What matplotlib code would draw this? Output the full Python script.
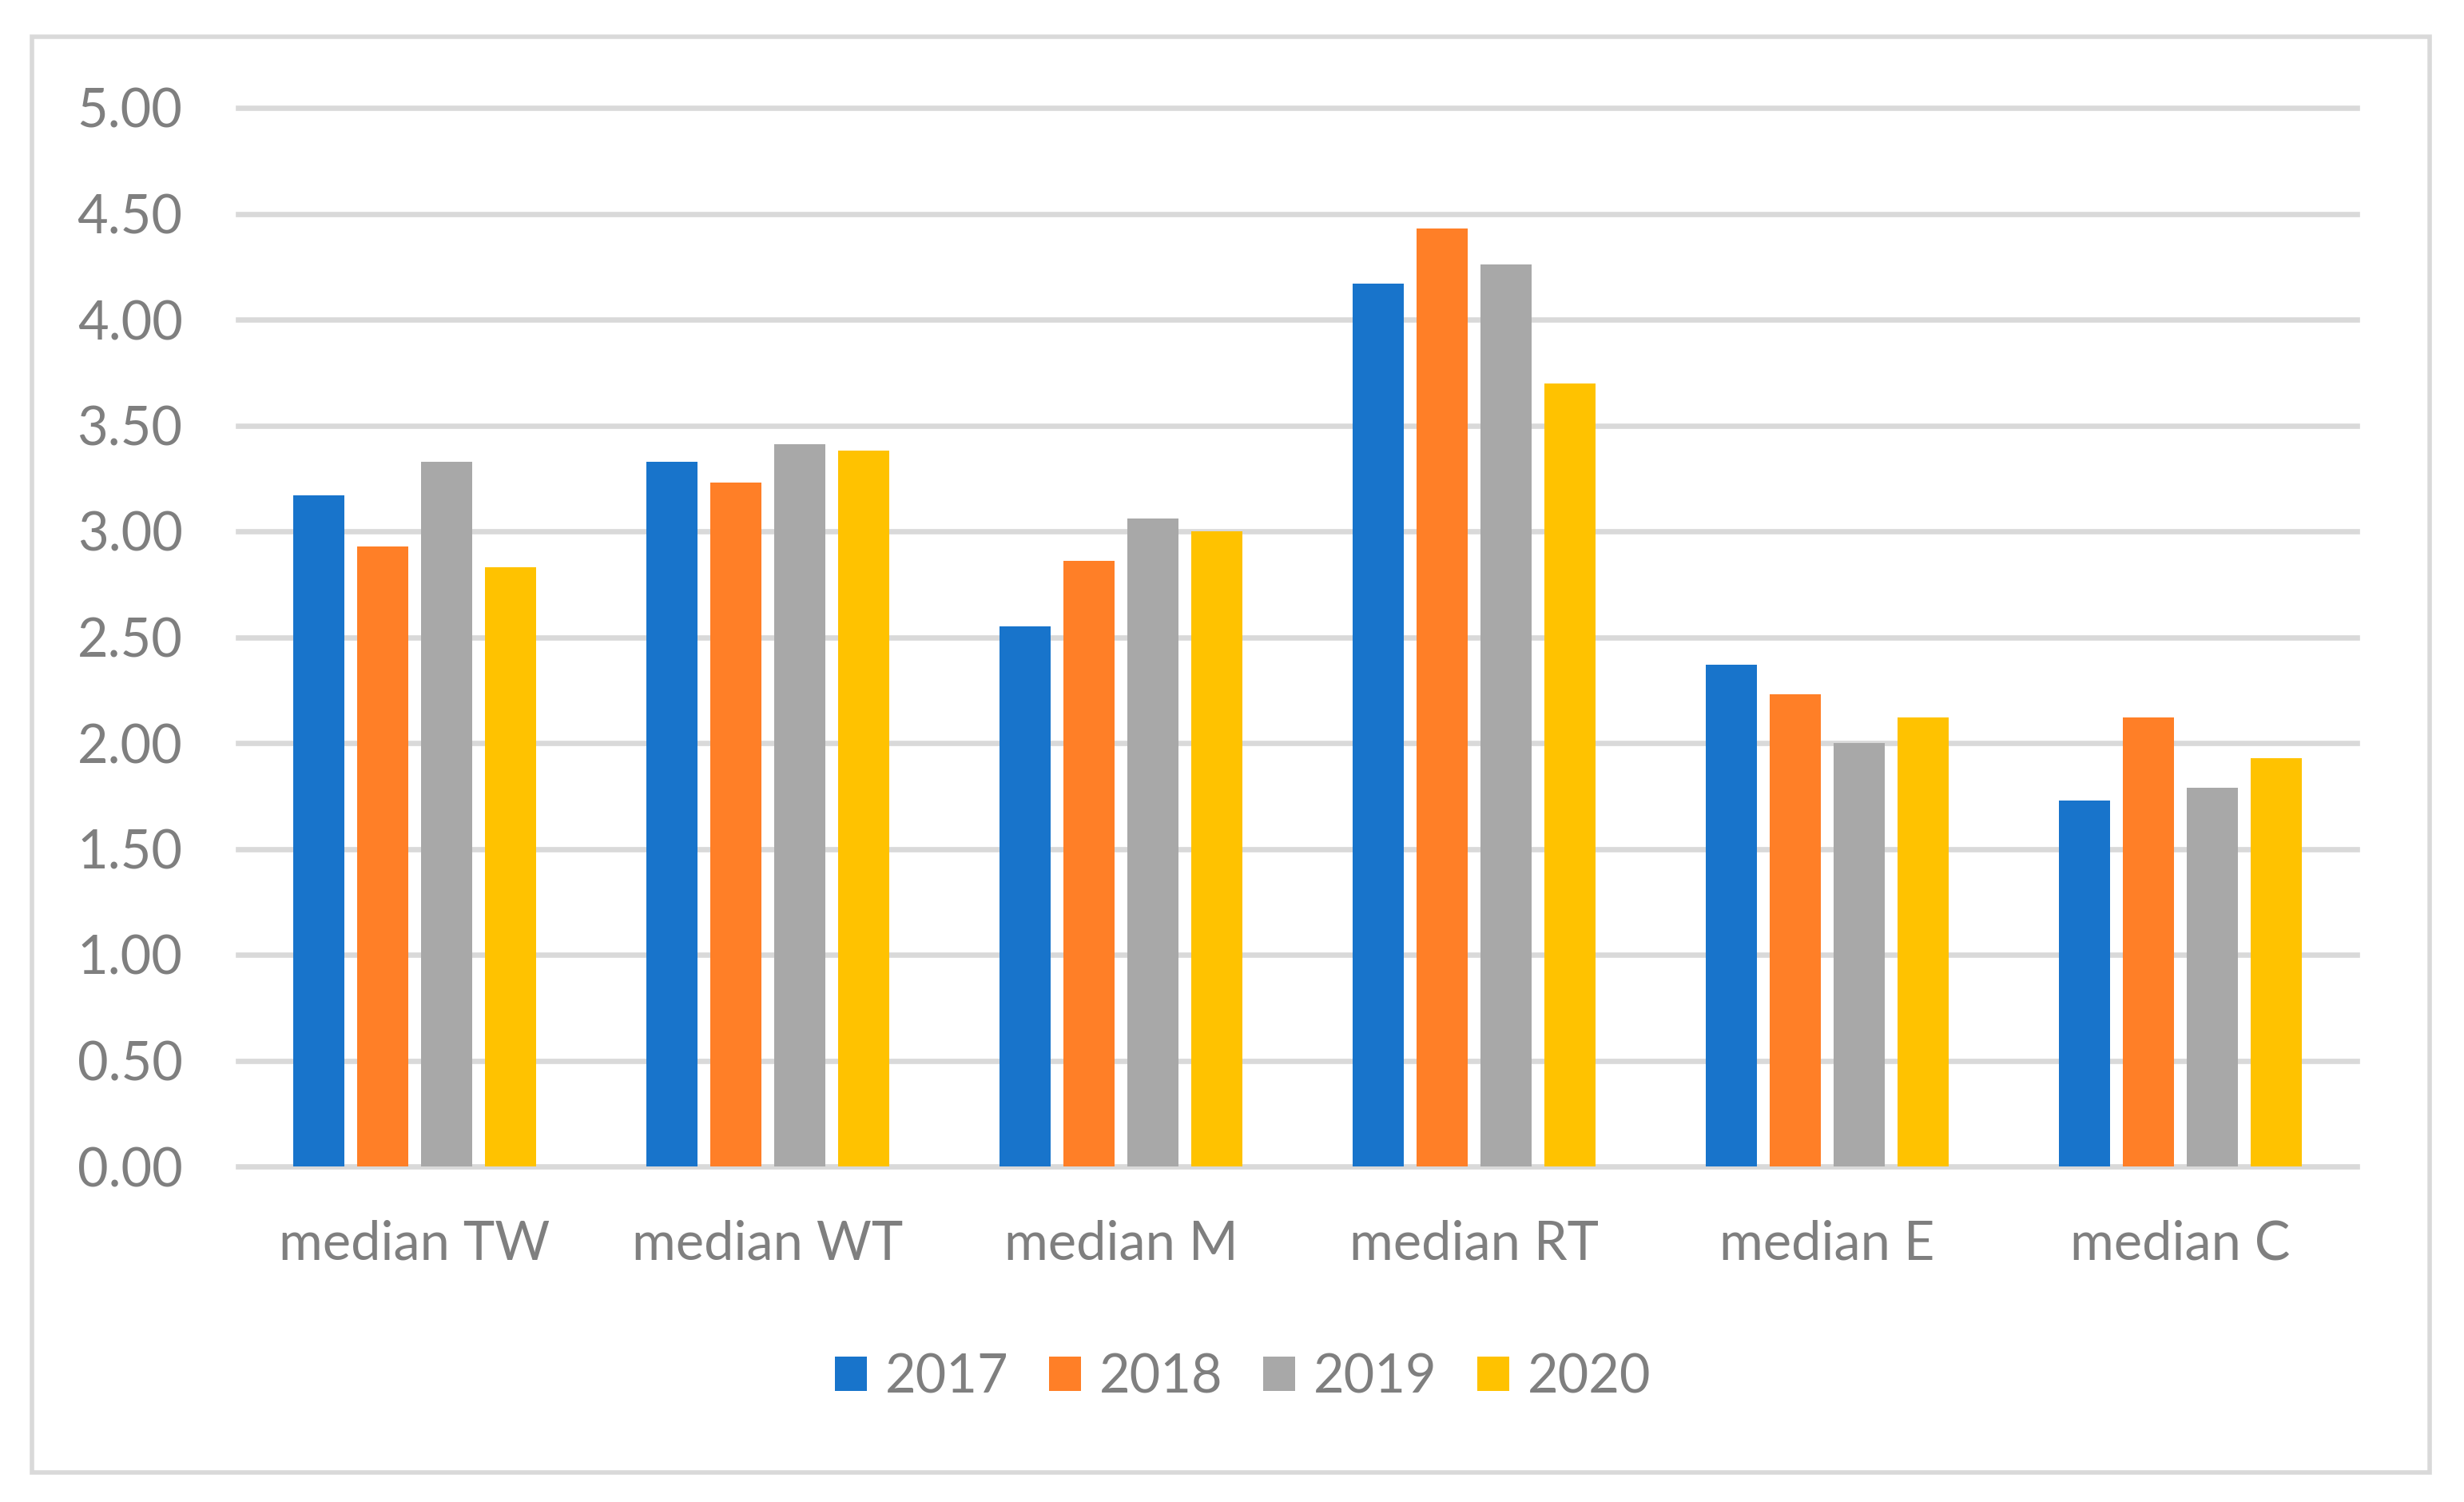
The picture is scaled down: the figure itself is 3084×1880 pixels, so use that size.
import matplotlib
matplotlib.use("Agg")
import matplotlib.pyplot as plt
import numpy as np
from matplotlib.patches import Rectangle, Patch

categories = ["median TW", "median WT", "median M", "median RT", "median E", "median C"]
years = ["2017", "2018", "2019", "2020"]
values_2017 = [3.17, 3.33, 2.55, 4.17, 2.37, 1.73]
values_2018 = [2.93, 3.23, 2.86, 4.43, 2.23, 2.12]
values_2019 = [3.33, 3.41, 3.06, 4.26, 2.00, 1.79]
values_2020 = [2.83, 3.38, 3.00, 3.70, 2.12, 1.93]
yticks = [0.0, 0.5, 1.0, 1.5, 2.0, 2.5, 3.0, 3.5, 4.0, 4.5, 5.0]

colors = ["#1874CB", "#FF7F27", "#A8A8A8", "#FFC200"]
grid_color = "#D9D9D9"
text_color = "#7F7F7F"

plt.rcParams["font.family"] = ["Lato", "DejaVu Sans"]

W, H, DPI = 3084, 1880, 200
fig = plt.figure(figsize=(W / DPI, H / DPI), dpi=DPI)

left, right, top, bottom = 298, 2950, 135, 1460
ax = fig.add_axes([left / W, 1 - bottom / H, (right - left) / W, (bottom - top) / H])

series = [values_2017, values_2018, values_2019, values_2020]
x = np.arange(len(categories))
bar_w = 0.1448
step = 0.181
for i, (vals, col) in enumerate(zip(series, colors)):
    offs = (i - 1.5) * step
    ax.bar(x + offs, vals, width=bar_w, color=col, zorder=3, label=years[i])

ax.set_xlim(-0.5, len(categories) - 0.5)
ax.set_ylim(0, 5)

for t in yticks:
    ax.axhline(t, color=grid_color, lw=2.4, zorder=1, clip_on=False)

for s in ax.spines.values():
    s.set_visible(False)

ax.set_yticks(yticks)
ax.set_yticklabels(["{:.2f}".format(t) for t in yticks])
ax.set_xticks(x)
ax.set_xticklabels(categories)
ax.tick_params(axis="y", length=0, pad=25, labelsize=24, labelcolor=text_color)
ax.tick_params(axis="x", length=0, pad=24, labelsize=24, labelcolor=text_color)

handles = [Patch(facecolor=c, edgecolor="none") for c in colors]
fig.legend(
    handles,
    years,
    loc="center",
    bbox_to_anchor=(0.5045, 1 - 1724 / H),
    ncol=4,
    frameon=False,
    fontsize=24,
    labelcolor=text_color,
    handlelength=0.6,
    handleheight=0.62,
    handletextpad=0.35,
    columnspacing=0.75,
)

# outer chart border
fig.patches.append(
    Rectangle(
        (40 / W, 1 - 1843 / H),
        (3041 - 40) / W,
        (1843 - 46) / H,
        transform=fig.transFigure,
        fill=False,
        edgecolor=grid_color,
        lw=2.0,
    )
)

fig.savefig("out.png", dpi=DPI)
